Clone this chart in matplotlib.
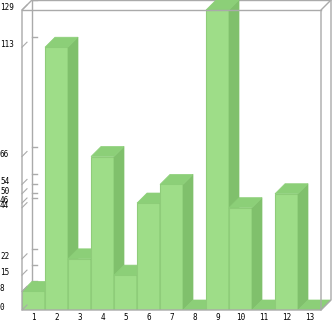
import numpy as np
import matplotlib
matplotlib.use('Agg')
import matplotlib.pyplot as plt
from matplotlib.patches import Polygon

categories = ['1', '2', '3', '4', '5', '6', '7', '8', '9', '10', '11', '12', '13']
values = [8, 113, 22, 66, 15, 46, 54, 0, 129, 44, 0, 50, 0]
tick_values = [0, 8, 15, 22, 44, 46, 50, 54, 66, 113, 129]

front = '#9edd88'
side = '#80c06c'
top = '#8ccf78'
edge = '#8fcc7a'
grey = '#aaaaaa'

W, H = 333, 321
fig = plt.figure(figsize=(W / 100, H / 100), dpi=100)

# pixel layout: front plot area x 22..321, y 10..310 (from top); depth 10px
left_px, right_px, top_px, bot_px, depth_px = 22, 321, 10, 310, 10
ax = fig.add_axes([left_px / W, (H - bot_px) / H,
                   (right_px + depth_px - left_px) / W, (bot_px - top_px + depth_px) / H])
ax.axis('off')

ymax = max(values)
upx = (right_px - left_px) / len(values)        # px per x unit
vpx = (bot_px - top_px) / ymax                  # px per y unit
dx = depth_px / upx
dy = depth_px / vpx
ax.set_xlim(0.5, len(values) + 0.5 + dx)
ax.set_ylim(0, ymax + dy)

x = np.arange(1, len(values) + 1)
x0, x1 = 0.5, len(values) + 0.5

# back wall
ax.plot([x0 + dx, x0 + dx, x1 + dx], [dy, ymax + dy, ymax + dy], color=grey, lw=1, zorder=1)
for v in tick_values:
    ax.plot([x0 + dx, x0 + dx + 5 / upx], [v + dy, v + dy], color=grey, lw=1, zorder=1)

# bars, left to right
for i, (xi, v) in enumerate(zip(x, values)):
    l, r = xi - 0.5, xi + 0.5
    z = 2 + i
    if v > 0:
        ax.bar(xi, v, width=1, color=front, edgecolor=edge, linewidth=0.8, zorder=z)
        ax.add_patch(Polygon([(r, 0), (r + dx, dy), (r + dx, v + dy), (r, v)],
                             closed=True, facecolor=side, edgecolor=side, lw=0.5, zorder=z))
    ax.add_patch(Polygon([(l, v), (r, v), (r + dx, v + dy), (l + dx, v + dy)],
                         closed=True, facecolor=top, edgecolor=top, lw=0.5, zorder=z))

# front frame
ax.plot([x0 + dx, x0, x0, x1, x1, x1 + dx], [ymax + dy, ymax, 0, 0, ymax, ymax + dy],
        color=grey, lw=1, zorder=30, clip_on=False)
ax.plot([x1, x1 + dx, x1 + dx], [0, dy, ymax + dy], color=grey, lw=1, zorder=30, clip_on=False)
ax.plot([x0, x1], [ymax, ymax], color=grey, lw=1, zorder=30)

# y ticks: slashes and labels
for v in tick_values:
    ax.plot([x0, x0 + 5 / upx], [v, v + 5 / vpx], color=grey, lw=0.8, zorder=31, clip_on=False)
    ax.annotate(str(v), xy=(0, v), xycoords=('figure fraction', 'data'),
                xytext=(0, 2.5), textcoords='offset pixels', ha='left', va='center',
                fontsize=5.5, family='DejaVu Sans Mono', color='black')

for xi, c in zip(x, categories):
    ax.annotate(c, xy=(xi, 0), xytext=(0, -8), textcoords='offset pixels',
                ha='center', va='center', fontsize=5.5, family='DejaVu Sans Mono')

fig.savefig('out.png', dpi=100)
